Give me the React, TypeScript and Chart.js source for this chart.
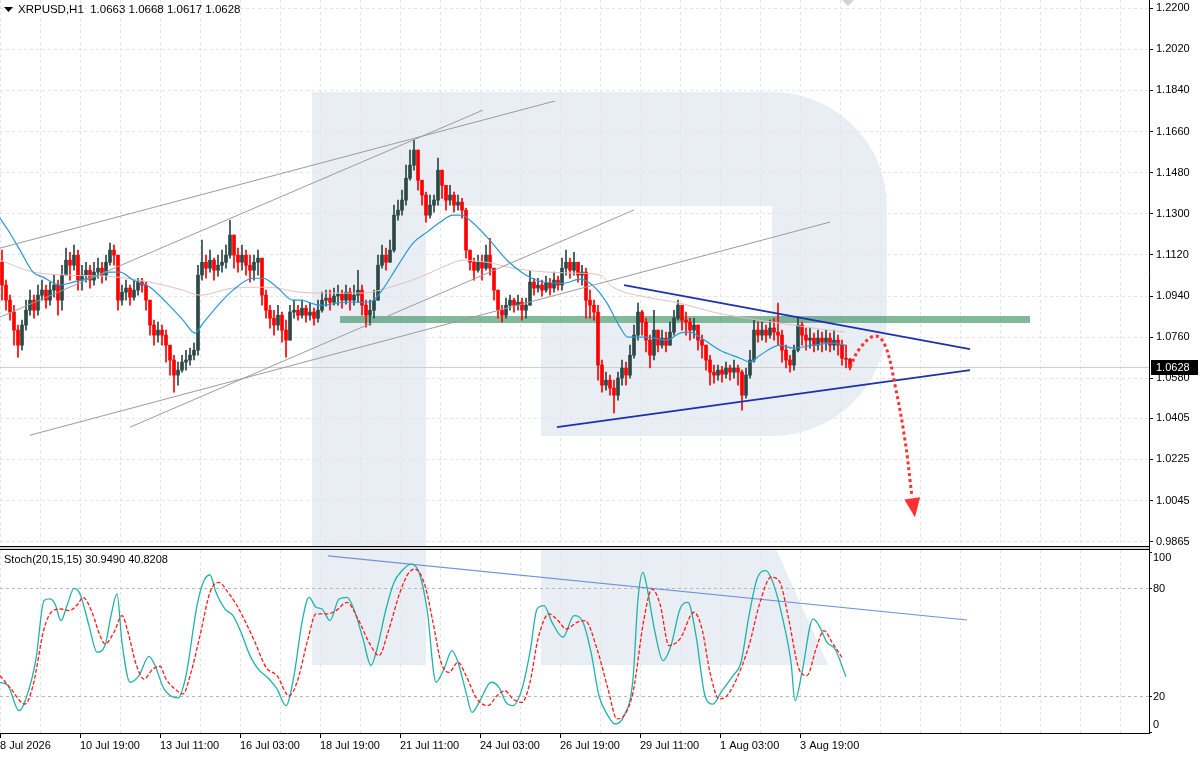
import React, { useEffect, useRef } from 'react';
import { Chart, registerables } from 'chart.js';

Chart.register(...registerables);

// ---------------- data ----------------
const symbolName = 'XRPUSD,H1';
const lastBar = [1.0663, 1.0668, 1.0617, 1.0628]; // O H L C of the last candle

const firstOpen = 1.1088;
const closes = [
  1.0988, 1.0922, 1.0870, 1.0791, 1.0725, 1.0813, 1.0878, 1.0922, 1.0878, 1.0944,
  1.0966, 1.0922, 1.0966, 1.0988, 1.0922, 1.1032, 1.1097, 1.1075, 1.1119, 1.1010,
  1.1032, 1.1053, 1.1010, 1.1045, 1.1062, 1.1032, 1.1088, 1.1141, 1.1119, 1.0922,
  1.0957, 1.0975, 1.0935, 1.0966, 1.1001, 1.0988, 1.0922, 1.0813, 1.0769, 1.0791,
  1.0769, 1.0725, 1.0660, 1.0594, 1.0616, 1.0651, 1.0660, 1.0681, 1.0703, 1.1032,
  1.1088, 1.1062, 1.1097, 1.1053, 1.1075, 1.1088, 1.1119, 1.1207, 1.1119, 1.1088,
  1.1119, 1.1075, 1.1053, 1.1088, 1.1106, 1.0944, 1.0878, 1.0843, 1.0813, 1.0856,
  1.0791, 1.0747, 1.0870, 1.0878, 1.0856, 1.0887, 1.0856, 1.0870, 1.0843, 1.0878,
  1.0922, 1.0931, 1.0913, 1.0940, 1.0948, 1.0922, 1.0957, 1.0922, 1.0944, 1.0966,
  1.0900, 1.0856, 1.0878, 1.0922, 1.1075, 1.1119, 1.1088, 1.1141, 1.1294, 1.1316,
  1.1360, 1.1456, 1.1513, 1.1579, 1.1447, 1.1382, 1.1294, 1.1338, 1.1360, 1.1491,
  1.1425, 1.1360, 1.1382, 1.1338, 1.1351, 1.1316, 1.1141, 1.1088, 1.1053, 1.1088,
  1.1062, 1.1119, 1.1062, 1.0966, 1.0878, 1.0856, 1.0900, 1.0922, 1.0900, 1.0913,
  1.0878, 1.0900, 1.1001, 1.0975, 1.0988, 1.0966, 1.0996, 1.0975, 1.1010, 1.0988,
  1.1062, 1.1088, 1.1053, 1.1088, 1.1032, 1.1045, 1.0922, 1.0900, 1.0870, 1.0638,
  1.0550, 1.0572, 1.0537, 1.0506, 1.0581, 1.0625, 1.0594, 1.0681, 1.0769, 1.0870,
  1.0826, 1.0747, 1.0681, 1.0791, 1.0725, 1.0756, 1.0725, 1.0782, 1.0843, 1.0900,
  1.0835, 1.0826, 1.0791, 1.0813, 1.0747, 1.0725, 1.0660, 1.0607, 1.0594, 1.0616,
  1.0598, 1.0625, 1.0607, 1.0625, 1.0607, 1.0506, 1.0594, 1.0660, 1.0791, 1.0769,
  1.0791, 1.0769, 1.0800, 1.0782, 1.0769, 1.0703, 1.0660, 1.0638, 1.0703, 1.0813,
  1.0769, 1.0747, 1.0756, 1.0725, 1.0756, 1.0738, 1.0756, 1.0725, 1.0747, 1.0725,
  1.0668, 1.0663, 1.0628,
];
const highs = [
  1.1141, 1.1010, 1.0944, 1.0900, 1.0813, 1.0835, 1.0922, 1.0966, 1.0944, 1.0988,
  1.1010, 1.0988, 1.1001, 1.1032, 1.1010, 1.1075, 1.1150, 1.1132, 1.1163, 1.1141,
  1.1075, 1.1088, 1.1075, 1.1088, 1.1106, 1.1088, 1.1119, 1.1172, 1.1163, 1.1119,
  1.0988, 1.1010, 1.0988, 1.1010, 1.1018, 1.1018, 1.1001, 1.0922, 1.0835, 1.0826,
  1.0813, 1.0791, 1.0725, 1.0681, 1.0651, 1.0681, 1.0703, 1.0712, 1.0734, 1.1075,
  1.1185, 1.1119, 1.1141, 1.1106, 1.1119, 1.1141, 1.1163, 1.1272, 1.1207, 1.1150,
  1.1163, 1.1141, 1.1119, 1.1119, 1.1141, 1.1106, 1.0966, 1.0900, 1.0878, 1.0900,
  1.0870, 1.0835, 1.0900, 1.0922, 1.0900, 1.0922, 1.0900, 1.0909, 1.0887, 1.0922,
  1.0957, 1.0966, 1.0966, 1.0975, 1.0988, 1.0966, 1.0988, 1.0975, 1.0988, 1.1053,
  1.0988, 1.0922, 1.0922, 1.0966, 1.1119, 1.1163, 1.1150, 1.1185, 1.1338, 1.1360,
  1.1404, 1.1513, 1.1579, 1.1622, 1.1579, 1.1447, 1.1395, 1.1382, 1.1382, 1.1544,
  1.1491, 1.1425, 1.1425, 1.1395, 1.1382, 1.1368, 1.1325, 1.1141, 1.1106, 1.1119,
  1.1119, 1.1163, 1.1193, 1.1062, 1.0966, 1.0900, 1.0931, 1.0944, 1.0931, 1.0944,
  1.0931, 1.0931, 1.1053, 1.1018, 1.1018, 1.1010, 1.1027, 1.1018, 1.1045, 1.1027,
  1.1106, 1.1141, 1.1106, 1.1132, 1.1088, 1.1075, 1.1062, 1.0966, 1.0922, 1.0900,
  1.0660, 1.0607, 1.0594, 1.0572, 1.0607, 1.0660, 1.0651, 1.0725, 1.0813, 1.0909,
  1.0878, 1.0843, 1.0769, 1.0878, 1.0791, 1.0791, 1.0782, 1.0826, 1.0878, 1.0922,
  1.0900, 1.0870, 1.0843, 1.0843, 1.0813, 1.0769, 1.0725, 1.0681, 1.0638, 1.0638,
  1.0633, 1.0651, 1.0638, 1.0660, 1.0638, 1.0616, 1.0625, 1.0703, 1.0835, 1.0826,
  1.0826, 1.0813, 1.0835, 1.0843, 1.0909, 1.0791, 1.0725, 1.0681, 1.0725, 1.0843,
  1.0826, 1.0800, 1.0800, 1.0778, 1.0791, 1.0782, 1.0791, 1.0778, 1.0791, 1.0769,
  1.0747, 1.0725, 1.0668,
];
const lows = [
  1.0922, 1.0878, 1.0835, 1.0725, 1.0673, 1.0703, 1.0791, 1.0856, 1.0843, 1.0856,
  1.0922, 1.0887, 1.0900, 1.0935, 1.0856, 1.0878, 1.1032, 1.1010, 1.1053, 1.0966,
  1.0966, 1.1001, 1.0975, 1.0988, 1.1018, 1.0996, 1.1010, 1.1075, 1.1075, 1.0878,
  1.0900, 1.0922, 1.0900, 1.0922, 1.0944, 1.0957, 1.0878, 1.0769, 1.0725, 1.0738,
  1.0725, 1.0651, 1.0594, 1.0519, 1.0550, 1.0607, 1.0616, 1.0638, 1.0660, 1.0681,
  1.1010, 1.1018, 1.1045, 1.1010, 1.1027, 1.1045, 1.1062, 1.1106, 1.1062, 1.1045,
  1.1053, 1.1032, 1.1001, 1.1010, 1.1032, 1.0900, 1.0843, 1.0800, 1.0769, 1.0791,
  1.0738, 1.0673, 1.0791, 1.0843, 1.0835, 1.0843, 1.0826, 1.0835, 1.0813, 1.0826,
  1.0870, 1.0896, 1.0878, 1.0900, 1.0900, 1.0887, 1.0905, 1.0878, 1.0900, 1.0913,
  1.0856, 1.0804, 1.0813, 1.0843, 1.0922, 1.1062, 1.1053, 1.1088, 1.1132, 1.1272,
  1.1294, 1.1338, 1.1447, 1.1491, 1.1404, 1.1338, 1.1263, 1.1281, 1.1307, 1.1338,
  1.1368, 1.1316, 1.1338, 1.1307, 1.1316, 1.1281, 1.1106, 1.1053, 1.1010, 1.1045,
  1.1010, 1.1053, 1.1032, 1.0922, 1.0843, 1.0826, 1.0843, 1.0878, 1.0870, 1.0878,
  1.0835, 1.0843, 1.0900, 1.0944, 1.0957, 1.0940, 1.0957, 1.0944, 1.0957, 1.0966,
  1.0966, 1.1032, 1.1018, 1.1032, 1.1001, 1.0988, 1.0843, 1.0843, 1.0835, 1.0572,
  1.0519, 1.0528, 1.0506, 1.0428, 1.0484, 1.0550, 1.0550, 1.0581, 1.0668, 1.0747,
  1.0769, 1.0695, 1.0625, 1.0660, 1.0695, 1.0712, 1.0695, 1.0725, 1.0769, 1.0835,
  1.0791, 1.0769, 1.0747, 1.0756, 1.0703, 1.0668, 1.0616, 1.0550, 1.0559, 1.0572,
  1.0563, 1.0581, 1.0572, 1.0581, 1.0550, 1.0441, 1.0493, 1.0581, 1.0651, 1.0738,
  1.0747, 1.0738, 1.0756, 1.0747, 1.0725, 1.0651, 1.0625, 1.0607, 1.0616, 1.0695,
  1.0725, 1.0703, 1.0712, 1.0695, 1.0703, 1.0695, 1.0703, 1.0695, 1.0703, 1.0681,
  1.0638, 1.0625, 1.0617,
];

// moving averages (bar position, price)
const blueMaBars = [0, 2.5, 5, 8.25, 10.75, 15, 18.25, 23.25, 27.5, 30, 33.25, 37.5, 41.75, 45.75, 48.75, 50.75, 55, 58.25, 63.25, 65.75, 69.25, 73.25, 75, 80, 86.75, 92.5, 95, 99.25, 103.25, 106.75, 110, 113.25, 115.5, 117.5, 121.75, 126.75, 130.75, 135, 140.75, 145, 147.5, 150, 151.75, 155, 157, 161.75, 166.75, 170, 172.5, 175, 180, 185, 187.5, 190, 195, 198.25, 203.25, 208.25, 211.25];
const blueMaValues = [1.1281, 1.1215, 1.1141, 1.1045, 1.1023, 1.0988, 1.1001, 1.1023, 1.1045, 1.1045, 1.1010, 1.0979, 1.0909, 1.0835, 1.0778, 1.0821, 1.0909, 1.0966, 1.1018, 1.1018, 1.0979, 1.0922, 1.0922, 1.0900, 1.0913, 1.0913, 1.0953, 1.1067, 1.1172, 1.1220, 1.1263, 1.1294, 1.1294, 1.1272, 1.1198, 1.1097, 1.1040, 1.1005, 1.0996, 1.1014, 1.0996, 1.0953, 1.0909, 1.0804, 1.0760, 1.0760, 1.0747, 1.0778, 1.0782, 1.0760, 1.0703, 1.0668, 1.0651, 1.0681, 1.0725, 1.0712, 1.0725, 1.0734, 1.0725];
const pinkMaBars = [0, 8.25, 16.75, 29.25, 37.5, 45.75, 50, 58.25, 66.75, 75, 80, 90.75, 97.5, 105, 111.75, 115.75, 121.75, 128.25, 136.75, 145, 150, 153.25, 161.75, 170, 178.25, 186.75, 195, 203.25, 211.25];
const pinkMaValues = [1.1097, 1.1045, 1.1032, 1.1023, 1.1001, 1.0966, 1.0944, 1.0975, 1.0979, 1.0957, 1.0953, 1.0953, 1.0979, 1.1023, 1.1075, 1.1097, 1.1088, 1.1062, 1.1045, 1.1040, 1.1032, 1.0979, 1.0935, 1.0909, 1.0870, 1.0843, 1.0821, 1.0800, 1.0782];

// drawn objects (bar position, price)
const channelLineA = [[0, 1.1150], [138.75, 1.1794]];
const channelLineB = [[0, 1.0848], [120.75, 1.1754]];
const channelLineC = [[7.5, 1.0331], [207.5, 1.1264]];
const channelLineD = [[32.5, 1.0366], [158.5, 1.1317]];
const triangleUpper = [[156, 1.0988], [242.5, 1.0708]];
const triangleLower = [[139.25, 1.0366], [242.5, 1.0616]];
const resistanceZone = [[85, 1.0838], [257.5, 1.0838]];
const forecastPath = [[212.5, 1.0629], [215, 1.0712], [218.75, 1.0765], [221.25, 1.0725], [223.75, 1.0550], [226.25, 1.0309], [228, 1.0060]];
const forecastTip = [228.75, 0.9972];

// axes
const priceTicks = [1.22, 1.202, 1.184, 1.166, 1.148, 1.13, 1.112, 1.094, 1.076, 1.058, 1.0405, 1.0225, 1.0045, 0.9865];
const timeLabels = ['8 Jul 2026', '10 Jul 19:00', '13 Jul 11:00', '16 Jul 03:00', '18 Jul 19:00', '21 Jul 11:00', '24 Jul 03:00', '26 Jul 19:00', '29 Jul 11:00', '1 Aug 03:00', '3 Aug 19:00'];
const timeLabelBars = [0, 20, 40, 60, 80, 100, 120, 140, 160, 180, 200];
const gridBars = [0, 10, 20, 30, 40, 50, 60, 70, 80, 90, 100, 110, 120, 130, 140, 150, 160, 170, 180, 190, 200, 210, 220, 230, 240, 250, 260, 270, 280];

// stochastic
const stochName = 'Stoch(20,15,15)';
const stochLast = [30.949, 40.8208];
const stochLevels = [0, 20, 80, 100];
const stochKBars = [0, 2, 4.75, 7, 9, 11, 12.5, 13.75, 15.25, 16.75, 18.5, 20, 22.25, 24.25, 26.25, 27.75, 29.25, 30.5, 32.5, 34.75, 37.25, 38.75, 41, 44.5, 46.5, 49.25, 51, 52.5, 54, 56.25, 58.25, 60.25, 62.5, 64.5, 67.25, 69.25, 71.5, 73.5, 75.5, 77.25, 79, 80.5, 82.5, 84.75, 86.75, 88.75, 90.75, 92.75, 94.25, 96.5, 98.5, 100.5, 102.75, 104.75, 106.75, 109, 111, 113, 114.5, 116.5, 118, 120, 122.75, 124.75, 126.5, 128.25, 130.5, 132.5, 134.25, 136, 138, 140.75, 143.5, 145.75, 147.75, 149.75, 152, 153.75, 156, 158.25, 159.5, 160.75, 161.5, 163.75, 165.75, 167.75, 170, 172, 174, 176.25, 178.25, 180.25, 183.25, 185.25, 187.25, 189.25, 191.5, 193.5, 195.5, 197.75, 198.75, 200.5, 203.25, 204.75, 206.75, 208.75, 211.5];
const stochKValues = [27.9, 26.0, 12.1, 22.3, 40.9, 73.3, 74.2, 71.4, 62.2, 70.5, 80.1, 77.0, 59.4, 44.6, 48.3, 64.9, 77.0, 50.1, 27.9, 31.6, 42.3, 37.2, 24.2, 19.2, 31.6, 70.5, 84.4, 87.5, 77.9, 68.6, 64.9, 55.7, 42.7, 35.3, 29.7, 24.2, 14.9, 31.6, 61.2, 75.1, 69.6, 68.6, 62.2, 74.2, 75.1, 66.8, 52.0, 37.2, 46.4, 68.6, 83.4, 89.9, 93.6, 89.0, 68.6, 27.9, 35.3, 45.5, 39.0, 22.3, 11.2, 17.7, 27.9, 25.1, 16.7, 14.9, 24.2, 44.6, 68.6, 70.5, 61.2, 52.9, 64.9, 61.2, 44.6, 20.4, 9.3, 4.7, 9.3, 29.7, 74.2, 89.0, 83.4, 55.7, 39.9, 48.3, 68.6, 72.3, 53.8, 20.4, 15.8, 22.3, 31.6, 39.0, 64.9, 85.3, 89.9, 81.6, 64.9, 39.0, 17.7, 33.4, 63.1, 59.4, 50.1, 46.4, 30.9];
const stochDBars = [0, 2.75, 6.25, 8.25, 11, 13.25, 15.25, 17.25, 19.5, 20.75, 23, 25, 26.25, 28.5, 30.5, 32, 34, 36, 38.25, 40, 41.5, 43.75, 45.75, 47.75, 50, 52.5, 54.75, 57, 59, 61, 63.75, 66.5, 69.25, 72.25, 74.25, 77, 79, 81.75, 84, 86.75, 89.5, 92.25, 94.75, 97, 100, 102, 103.75, 106.25, 108.25, 110.25, 112.25, 114.5, 116.5, 119.25, 122, 124.25, 126.25, 128.25, 130.5, 132.5, 134.5, 137.25, 139.5, 141.5, 144.25, 146.25, 149.25, 152, 154.25, 156, 158.25, 161, 163, 165, 167.25, 170, 173.5, 175.5, 177.5, 179.75, 181.75, 184.5, 187.25, 190, 192.75, 195, 197, 199.75, 201.75, 204, 206, 208, 210.75];
const stochDValues = [31.6, 24.2, 15.8, 26.0, 57.5, 67.7, 68.6, 67.7, 71.4, 75.1, 66.8, 53.8, 49.2, 55.7, 64.9, 55.7, 38.1, 29.7, 35.3, 36.8, 29.7, 24.2, 21.4, 33.4, 53.8, 77.9, 83.4, 77.9, 71.4, 63.1, 50.1, 36.2, 31.6, 20.4, 27.9, 52.0, 65.9, 65.9, 67.7, 72.3, 63.1, 50.1, 42.7, 55.7, 77.9, 88.1, 90.8, 81.6, 61.2, 39.0, 33.4, 39.0, 31.6, 18.6, 14.9, 20.4, 23.2, 18.6, 16.7, 27.9, 52.0, 65.9, 62.2, 57.5, 61.2, 62.2, 46.4, 24.2, 7.5, 9.3, 22.3, 63.1, 79.7, 71.4, 48.3, 52.0, 66.8, 57.5, 33.4, 18.6, 20.4, 31.6, 48.3, 72.3, 86.3, 83.4, 64.9, 35.3, 31.6, 46.4, 56.6, 50.1, 40.8];
const stochTrend = [[82, 98.1], [241.75, 62.5]];

// ---------------- layout / style ----------------
const FONT = 'Liberation Sans, Arial, sans-serif';
const PLOT_W = 1149;
const SLOT_PX = 4;
const X_MAX = PLOT_W / SLOT_PX;
const AXIS_W = 51;
const GRID = '#e4e4e4';
const WATERMARK = '#e9edf4';
const BULL = '#2c4846';
const BEAR = '#ff0000';
const TOP_H = 549;
const BOT_TOP = 549;
const BOT_H = 209;

const toPts = (xs: number[], ys: number[]) => xs.map((x, i) => ({ x, y: ys[i] }));
const pairPts = (p: number[][]) => p.map((q) => ({ x: q[0], y: q[1] }));

function lineDs(data: any[], color: string, width: number, order: number, extra: any = {}) {
  return {
    type: 'line',
    data,
    borderColor: color,
    borderWidth: width,
    pointRadius: 0,
    fill: false,
    order,
    tension: 0,
    ...extra,
  };
}

const zeroPad = (s: any) => {
  s.paddingLeft = 0;
  s.paddingRight = 0;
  s.paddingTop = 0;
  s.paddingBottom = 0;
};

function topConfig(): any {
  const opens = closes.map((c, i) => (i === 0 ? firstOpen : closes[i - 1]));
  const colors = closes.map((c, i) => (c >= opens[i] ? BULL : BEAR));
  const bodies = closes.map((c, i) => ({ x: i + 0.5, y: [opens[i], c] }));
  const wicks = closes.map((c, i) => ({
    x: i + 0.5,
    y: [Math.min(lows[i], opens[i], c), Math.max(highs[i], opens[i], c)],
  }));

  const decor = {
    id: 'topDecor',
    beforeDraw(chart: any) {
      const ctx = chart.ctx;
      ctx.save();
      ctx.fillStyle = '#fff';
      ctx.fillRect(0, 0, chart.width, chart.height);
      // watermark logo
      ctx.fillStyle = WATERMARK;
      ctx.beginPath();
      ctx.moveTo(312, 92);
      ctx.lineTo(772, 92);
      ctx.arcTo(887, 92, 887, 207, 115);
      ctx.lineTo(887, 321);
      ctx.arcTo(887, 436, 772, 436, 115);
      ctx.lineTo(541, 436);
      ctx.lineTo(541, 323);
      ctx.lineTo(772, 323);
      ctx.lineTo(772, 206);
      ctx.lineTo(426, 206);
      ctx.lineTo(426, 546);
      ctx.lineTo(312, 546);
      ctx.closePath();
      ctx.fill();
      ctx.restore();
    },
    beforeDatasetsDraw(chart: any) {
      const ctx = chart.ctx;
      const { left, right } = chart.chartArea;
      const y = Math.round(chart.scales.y.getPixelForValue(lastBar[3])) + 0.5;
      ctx.save();
      ctx.strokeStyle = '#cfcfcf';
      ctx.lineWidth = 1;
      ctx.beginPath();
      ctx.moveTo(left, y);
      ctx.lineTo(right, y);
      ctx.stroke();
      ctx.restore();
    },
    afterDraw(chart: any) {
      const ctx = chart.ctx;
      const xs = chart.scales.x;
      const ys = chart.scales.y;
      ctx.save();
      // forecast arrow head
      const prev = forecastPath[forecastPath.length - 1];
      const bx = xs.getPixelForValue(prev[0]);
      const by = ys.getPixelForValue(prev[1]);
      const tx = xs.getPixelForValue(forecastTip[0]);
      const ty = ys.getPixelForValue(forecastTip[1]);
      const len = Math.hypot(tx - bx, ty - by) || 1;
      const ux = (tx - bx) / len;
      const uy = (ty - by) / len;
      const cx = tx - ux * 19;
      const cy = ty - uy * 19;
      ctx.fillStyle = '#ff3030';
      ctx.beginPath();
      ctx.moveTo(tx, ty);
      ctx.lineTo(cx - uy * 8, cy + ux * 8);
      ctx.lineTo(cx + uy * 8, cy - ux * 8);
      ctx.closePath();
      ctx.fill();

      // header
      ctx.fillStyle = '#000';
      ctx.beginPath();
      ctx.moveTo(4, 7);
      ctx.lineTo(13, 7);
      ctx.lineTo(8.5, 12);
      ctx.closePath();
      ctx.fill();
      ctx.font = `11.5px ${FONT}`;
      ctx.textBaseline = 'middle';
      ctx.textAlign = 'left';
      ctx.fillText(`${symbolName}  ${lastBar.map((v) => v.toFixed(4)).join(' ')}`, 18, 10);

      // chart-shift marker
      ctx.fillStyle = '#d2d2d2';
      ctx.beginPath();
      ctx.moveTo(842, 0);
      ctx.lineTo(854, 0);
      ctx.lineTo(848, 6);
      ctx.closePath();
      ctx.fill();

      // current price label
      ctx.font = `11px ${FONT}`;
      const py = Math.round(ys.getPixelForValue(lastBar[3]));
      ctx.fillStyle = '#000';
      ctx.fillRect(1151, py - 7, 47, 15);
      ctx.fillStyle = '#fff';
      ctx.fillText(lastBar[3].toFixed(4), 1156, py + 0.5);

      // panel separator
      ctx.fillStyle = '#000';
      ctx.fillRect(0, 546, PLOT_W + 1, 1);
      ctx.fillStyle = '#d4d4d4';
      ctx.fillRect(0, 547, PLOT_W, 2);
      ctx.fillStyle = '#000';
      ctx.fillRect(PLOT_W, 546, 1, 3);
      ctx.restore();
    },
  };

  return {
    type: 'bar',
    data: {
      datasets: [
        lineDs(pairPts(resistanceZone), 'rgba(46,139,87,0.6)', 7, 20, { borderCapStyle: 'butt' }),
        {
          type: 'bar',
          data: wicks,
          backgroundColor: colors,
          barThickness: 1,
          grouped: false,
          borderWidth: 0,
          order: 12,
        },
        {
          type: 'bar',
          data: bodies,
          backgroundColor: colors,
          barThickness: 3,
          grouped: false,
          minBarLength: 1,
          borderWidth: 0,
          order: 11,
        },
        lineDs(toPts(pinkMaBars, pinkMaValues), '#e4c0c0', 1, 9, { tension: 0.4, cubicInterpolationMode: 'monotone' }),
        lineDs(toPts(blueMaBars, blueMaValues), '#2499d6', 1.2, 8, { tension: 0.4, cubicInterpolationMode: 'monotone' }),
        lineDs(pairPts(channelLineA), '#9c9c9c', 1, 5),
        lineDs(pairPts(channelLineB), '#9c9c9c', 1, 5),
        lineDs(pairPts(channelLineC), '#9c9c9c', 1, 5),
        lineDs(pairPts(channelLineD), '#9c9c9c', 1, 5),
        lineDs(pairPts(triangleUpper), '#1d31b0', 1.8, 4),
        lineDs(pairPts(triangleLower), '#1d31b0', 1.8, 4),
        lineDs(pairPts(forecastPath), '#ff3030', 3, 1, { tension: 0.4, borderDash: [3, 3], borderCapStyle: 'butt' }),
      ],
    },
    options: {
      responsive: false,
      animation: false,
      events: [],
      layout: { padding: { left: 0, right: 0, top: 0, bottom: 3 } },
      plugins: { legend: { display: false }, tooltip: { enabled: false } },
      scales: {
        x: {
          type: 'linear',
          min: 0,
          max: X_MAX,
          offset: false,
          afterBuildTicks: (s: any) => {
            s.ticks = gridBars.map((v) => ({ value: v }));
          },
          ticks: { display: false },
          grid: { color: GRID, drawTicks: false, offset: false, lineWidth: 1 },
          border: { display: false, dash: [3, 3] },
          afterFit: (s: any) => {
            s.height = 0;
            zeroPad(s);
          },
        },
        y: {
          type: 'linear',
          position: 'right',
          min: 0.9846,
          max: 1.2236,
          afterBuildTicks: (s: any) => {
            s.ticks = priceTicks.map((v) => ({ value: v }));
          },
          ticks: {
            callback: (v: any) => Number(v).toFixed(4),
            font: { family: FONT, size: 11 },
            color: '#000',
            padding: 3,
            autoSkip: false,
          },
          grid: { color: GRID, tickColor: '#000', tickLength: 4, lineWidth: 1 },
          border: { display: true, color: '#000', width: 1, dash: [3, 3] },
          afterFit: (s: any) => {
            s.width = AXIS_W;
            zeroPad(s);
          },
        },
      },
    },
    plugins: [decor],
  };
}

function bottomConfig(): any {
  const decor = {
    id: 'stochDecor',
    beforeDraw(chart: any) {
      const ctx = chart.ctx;
      ctx.save();
      ctx.fillStyle = '#fff';
      ctx.fillRect(0, 0, chart.width, chart.height);
      ctx.fillStyle = WATERMARK;
      ctx.fillRect(312, 0, 114, 116);
      ctx.beginPath();
      ctx.moveTo(541, 0);
      ctx.lineTo(776, 0);
      ctx.lineTo(828, 116);
      ctx.lineTo(541, 116);
      ctx.closePath();
      ctx.fill();
      ctx.restore();
    },
    afterDraw(chart: any) {
      const ctx = chart.ctx;
      const ys = chart.scales.y;
      const { top, bottom } = chart.chartArea;
      ctx.save();
      ctx.fillStyle = '#000';
      ctx.fillRect(0, 0, PLOT_W + 1, 1);
      ctx.font = `11px ${FONT}`;
      ctx.textBaseline = 'middle';
      ctx.textAlign = 'left';
      ctx.fillText(`${stochName} ${stochLast.map((v) => v.toFixed(4)).join(' ')}`, 4, 11);
      stochLevels.forEach((v) => {
        let py = ys.getPixelForValue(v);
        py = Math.max(top + 8, Math.min(bottom - 8, py));
        ctx.fillText(String(v), 1153, py);
      });
      ctx.restore();
    },
  };

  return {
    type: 'line',
    data: {
      datasets: [
        lineDs(pairPts(stochTrend), '#6f93d8', 1.2, 3),
        lineDs(toPts(stochKBars, stochKValues), '#20b2aa', 1.3, 2, { tension: 0.4, cubicInterpolationMode: 'monotone' }),
        lineDs(toPts(stochDBars, stochDValues), '#ff1a1a', 1.3, 1, {
          tension: 0.4,
          cubicInterpolationMode: 'monotone',
          borderDash: [4, 2],
        }),
      ],
    },
    options: {
      responsive: false,
      animation: false,
      events: [],
      layout: { padding: { left: 0, right: 0, top: 1, bottom: 0 } },
      plugins: { legend: { display: false }, tooltip: { enabled: false } },
      scales: {
        x: {
          type: 'linear',
          min: 0,
          max: X_MAX,
          offset: false,
          afterBuildTicks: (s: any) => {
            s.ticks = gridBars.map((v) => ({ value: v }));
          },
          ticks: {
            callback: (v: any) => {
              const k = timeLabelBars.indexOf(Number(v));
              return k >= 0 ? timeLabels[k] : '';
            },
            align: 'start',
            maxRotation: 0,
            minRotation: 0,
            autoSkip: false,
            font: { family: FONT, size: 11 },
            color: '#000',
            padding: 1,
          },
          grid: {
            color: GRID,
            offset: false,
            tickLength: 5,
            tickColor: (c: any) =>
              c.tick && timeLabelBars.indexOf(c.tick.value) >= 0 ? '#000' : 'rgba(0,0,0,0)',
          },
          border: { display: true, color: '#000', width: 1, dash: [3, 3] },
          afterFit: (s: any) => {
            s.height = 25;
            zeroPad(s);
          },
        },
        y: {
          type: 'linear',
          position: 'right',
          min: -0.3,
          max: 101.4,
          afterBuildTicks: (s: any) => {
            s.ticks = stochLevels.map((v) => ({ value: v }));
          },
          ticks: { display: false },
          grid: {
            color: (c: any) =>
              c.tick && (c.tick.value === 20 || c.tick.value === 80) ? '#b8b8b8' : 'rgba(0,0,0,0)',
            tickColor: '#000',
            tickLength: 3,
          },
          border: { display: true, color: '#000', width: 1, dash: [3, 3] },
          afterFit: (s: any) => {
            s.width = AXIS_W;
            zeroPad(s);
          },
        },
      },
    },
    plugins: [decor],
  };
}

export default function App() {
  const topRef = useRef<HTMLCanvasElement>(null);
  const botRef = useRef<HTMLCanvasElement>(null);

  useEffect(() => {
    document.body.style.margin = '0';
    const top = new Chart(topRef.current as HTMLCanvasElement, topConfig());
    const bot = new Chart(botRef.current as HTMLCanvasElement, bottomConfig());
    return () => {
      top.destroy();
      bot.destroy();
    };
  }, []);

  return (
    <div
      style={{
        position: 'fixed',
        left: 0,
        top: 0,
        width: 1200,
        height: 758,
        background: '#fff',
        overflow: 'hidden',
      }}
    >
      <canvas
        ref={topRef}
        width={1200}
        height={TOP_H}
        style={{ position: 'absolute', left: 0, top: 0, width: 1200, height: TOP_H }}
      />
      <canvas
        ref={botRef}
        width={1200}
        height={BOT_H}
        style={{ position: 'absolute', left: 0, top: BOT_TOP, width: 1200, height: BOT_H }}
      />
    </div>
  );
}
